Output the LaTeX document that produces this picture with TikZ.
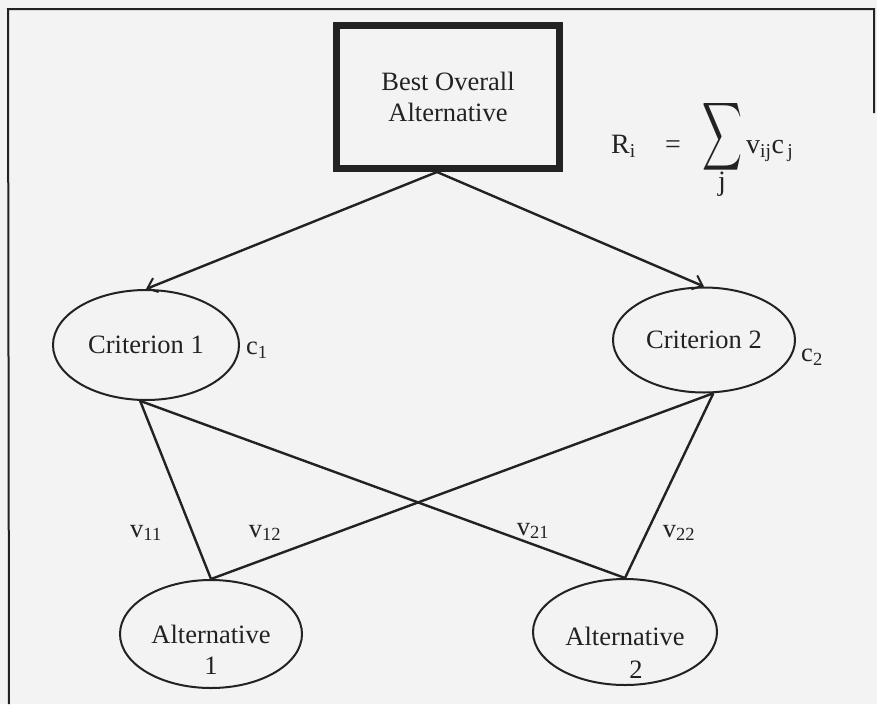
\documentclass[tikz,border=0pt]{standalone}
\usepackage{exscale}
\usepackage{fontspec}
\setmainfont{Liberation Serif}
\usepackage{graphicx}
\usetikzlibrary{shapes.geometric,arrows.meta}
\definecolor{ink}{HTML}{222222}
\definecolor{paper}{HTML}{F3F3F3}
\begin{document}
\begin{tikzpicture}[x=1pt,y=-1pt,
  font=\fontsize{26.5}{31}\selectfont,
  every node/.style={text=ink},
  crit/.style={ellipse, draw=ink, line width=2pt, inner sep=0pt},
  link/.style={draw=ink, line width=2.4pt},
  arrowlink/.style={link, -{Straight Barb[length=9pt,width=15pt,line width=2pt]}},
  lbl/.style={inner sep=0pt},
  frame/.style={draw=ink, line width=2pt}]
\fill[paper] (0,0) rectangle (877,704);
\useasboundingbox (0,0) rectangle (877,704);
% frame
\draw[frame] (874,113) -- (874,9) -- (8,9) -- (9,704);
% nodes
\node[rectangle, draw=ink, line width=7pt, minimum width=223pt, minimum height=143pt, align=center] (best) at (448,97) {Best Overall\\Alternative};
\node[crit, minimum width=186pt, minimum height=110pt] (c1) at (146,345) {Criterion 1};
\node[crit, minimum width=182pt, minimum height=105pt] (c2) at (704,340) {Criterion 2};
\node[crit, minimum width=182pt, minimum height=108pt] (a1) at (211,634) {};
\node[crit, minimum width=184pt, minimum height=106pt] (a2) at (625,632) {};
\node[lbl, align=center] (a1t) at (211,650) {Alternative\\1};
\node[lbl, align=center] (a2t) at (625,653) {Alternative\\[2pt]\hspace*{22pt}2};
% weight labels
\node[lbl] (lc1) at (257,350) {c\textsubscript{1}};
\node[lbl] (lc2) at (812,357) {c\textsubscript{2}};
\node[lbl] (v11) at (146,533) {v\textsubscript{11}};
\node[lbl] (v12) at (265,533) {v\textsubscript{12}};
\node[lbl] (v21) at (533,531) {v\textsubscript{21}};
\node[lbl] (v22) at (679,533) {v\textsubscript{22}};
% formula
\begin{scope}[font=\fontsize{28}{32}\selectfont]
\node[lbl, anchor=base west] (ri) at (611,153) {R\textsubscript{i}};
\node[lbl, anchor=base west] (eq) at (665,153) {=};
\node[lbl, minimum width=41pt, minimum height=50pt] (sum) at (722,137) {\resizebox{40pt}{50pt}{$\displaystyle\sum$}};
\node[lbl] (sj) at (722,184) {j};
\node[lbl, anchor=base west] (vc) at (746,153) {v\textsubscript{ij}c\textsubscript{\,j}};
\end{scope}
% connectors
\coordinate (src) at ([xshift=-11pt]best.south);
\draw[arrowlink] (src) -- (c1.north);
\draw[arrowlink] (src) -- (c2.north);
\draw[link] (c1.-96) -- (a1.north);
\draw[link] (c1.-96) -- (a2.north);
\draw[link] (c2.-80) -- (a1.north);
\draw[link] (c2.-80) -- (a2.north);
\end{tikzpicture}
\end{document}
